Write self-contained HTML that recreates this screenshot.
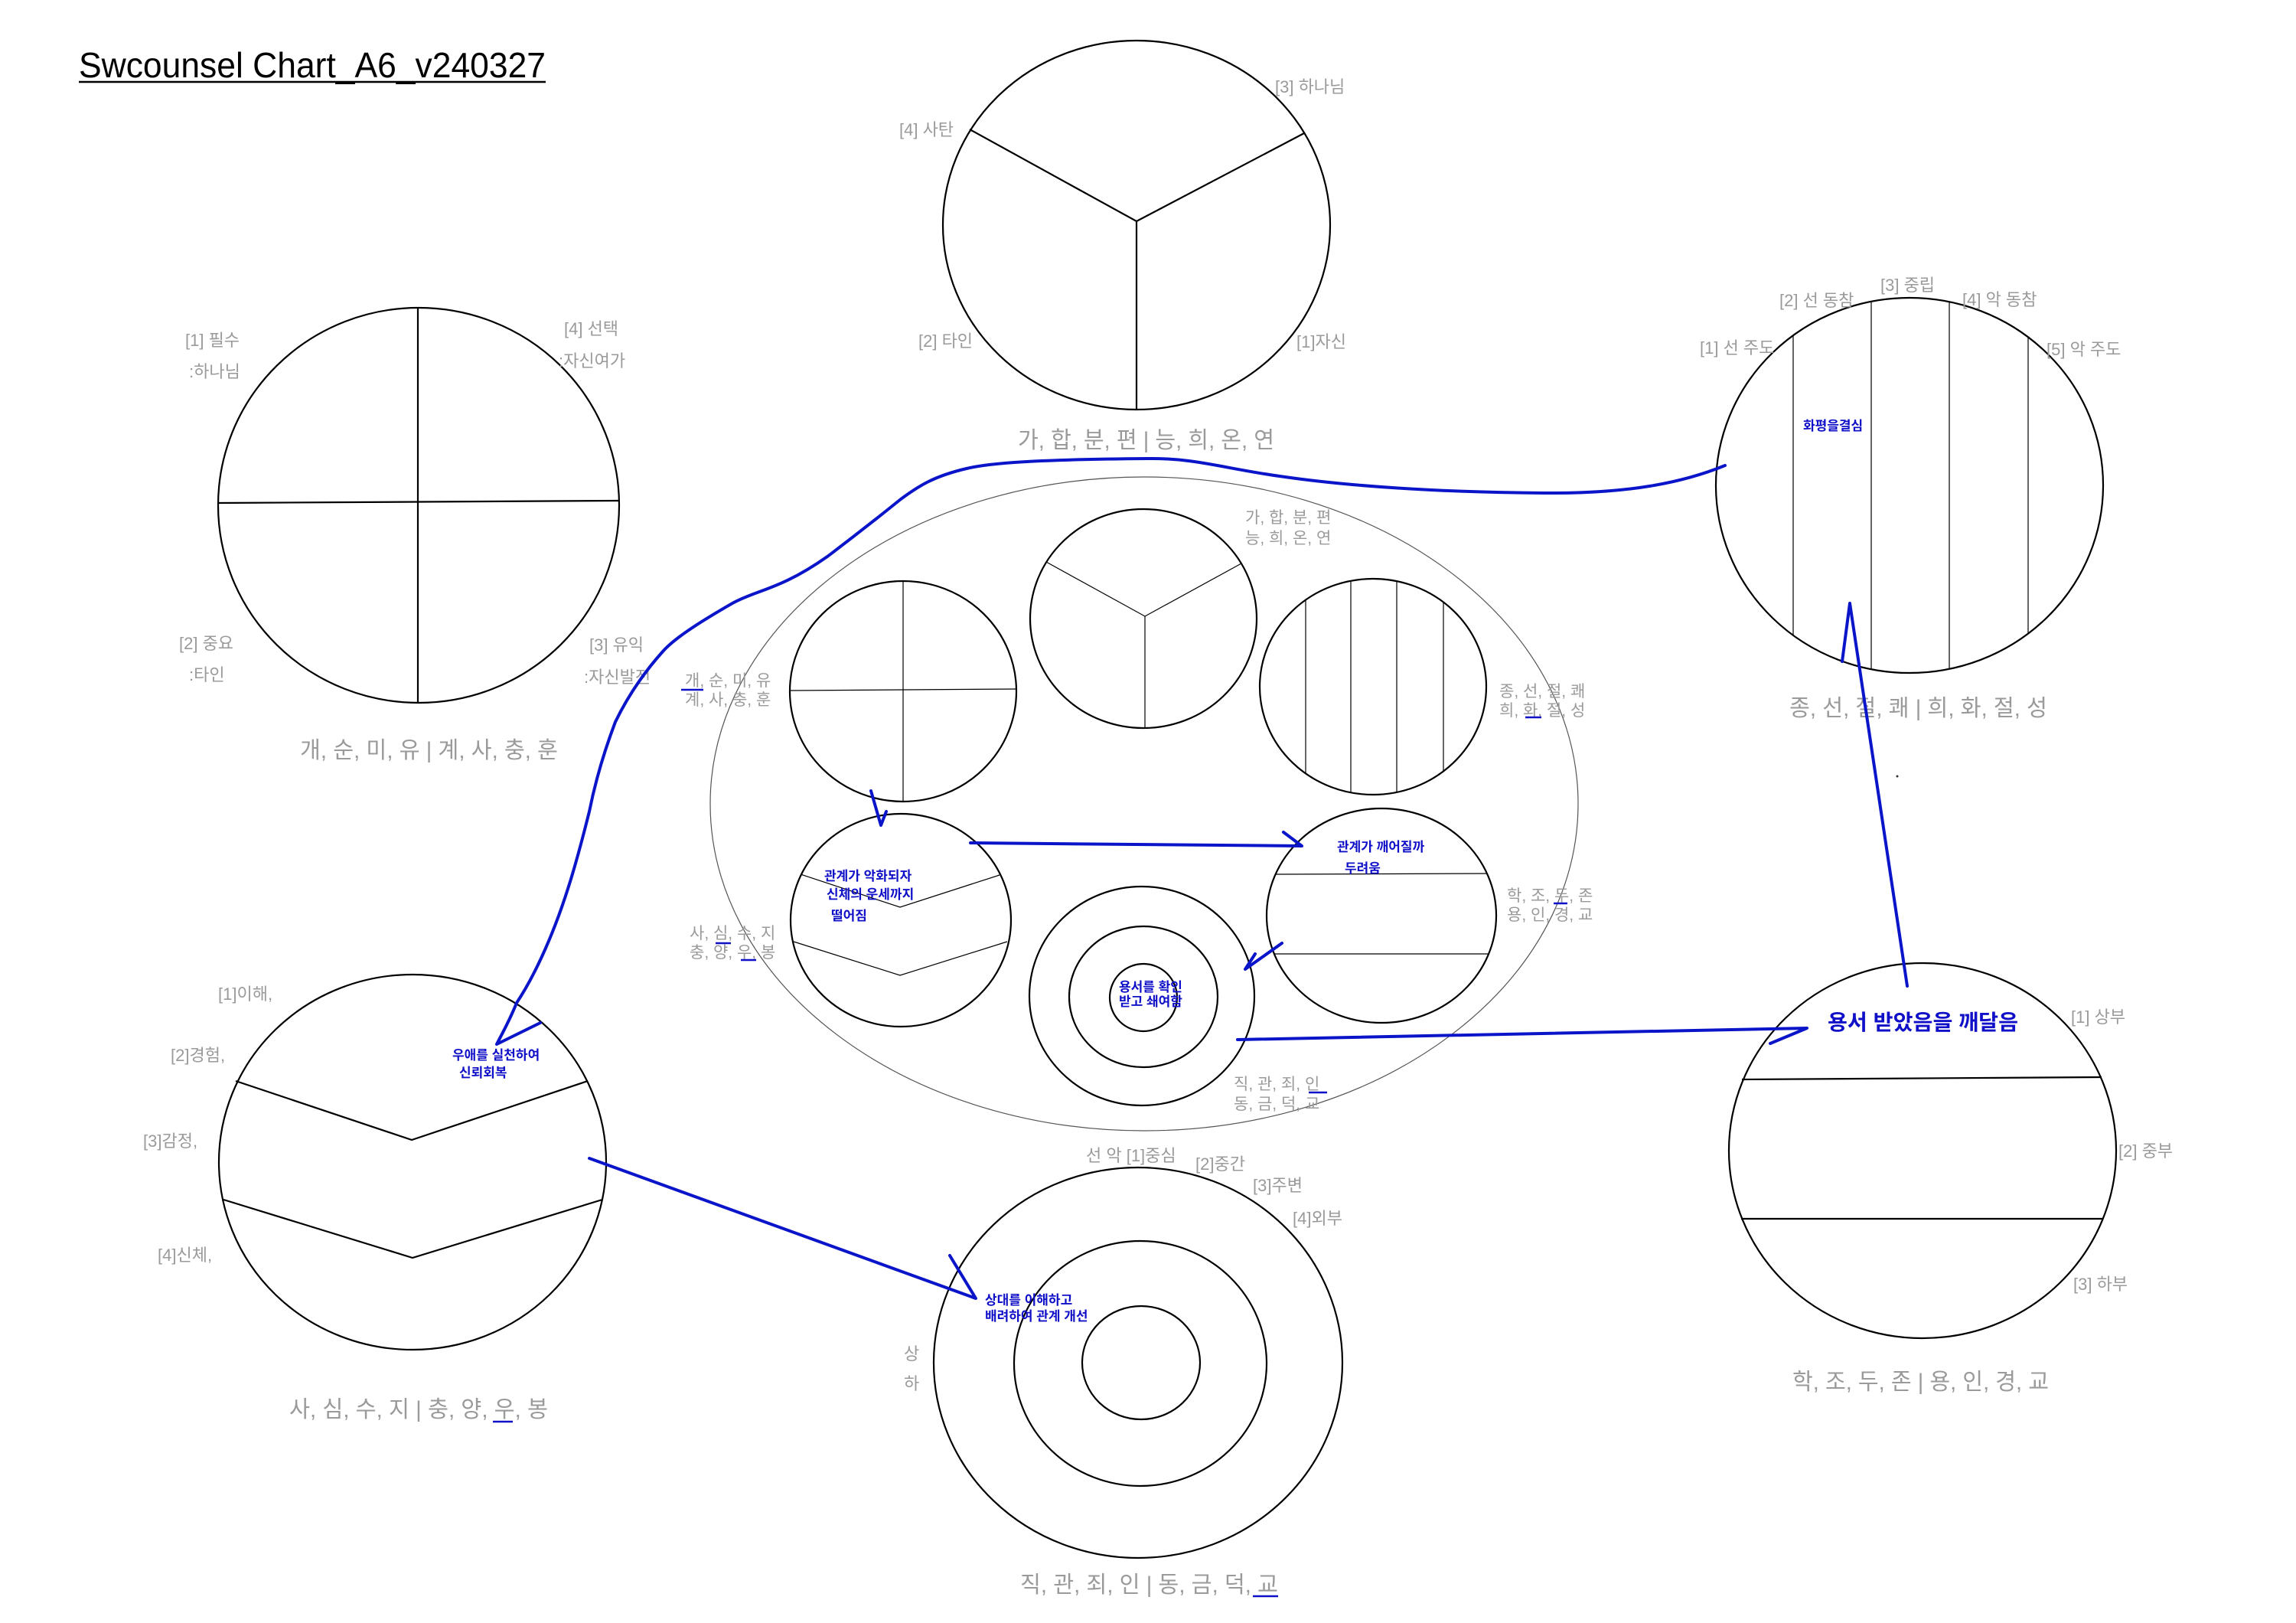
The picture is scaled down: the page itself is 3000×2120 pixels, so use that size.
<!DOCTYPE html>
<html><head><meta charset="utf-8"><style>
html,body{margin:0;padding:0;background:#fff;}
svg{display:block;}
text{font-family:"Liberation Sans","Noto Sans CJK KR",sans-serif;}
.g{fill:#9a9a9a;font-size:22px;}
.s{fill:#9a9a9a;font-size:21px;}
.c{fill:#9a9a9a;font-size:30px;}
.b{fill:#1010c8;font-size:17px;font-weight:bold;}
.k{fill:none;stroke:#000;stroke-width:2.2;}
.t{fill:none;stroke:#000;stroke-width:1.2;}
.bl{fill:none;stroke:#0a14c8;stroke-width:4;stroke-linecap:round;stroke-linejoin:round;}
.u{stroke:#1010c8;stroke-width:2.5;}
</style></head><body>
<svg width="3000" height="2120" viewBox="0 0 3000 2120" xmlns="http://www.w3.org/2000/svg">
<!-- title -->
<text x="103" y="101" font-size="46" fill="#000" textLength="610" lengthAdjust="spacingAndGlyphs">Swcounsel Chart_A6_v240327</text>
<line x1="103" y1="107" x2="713" y2="107" stroke="#000" stroke-width="2.5"/>

<!-- Circle A -->
<ellipse class="k" cx="547" cy="660" rx="262" ry="258"/>
<line class="k" x1="546" y1="403" x2="546" y2="918"/>
<line class="k" x1="285" y1="657" x2="809" y2="654"/>
<text class="g" x="242" y="452">[1] 필수</text>
<text class="g" x="247" y="493">:하나님</text>
<text class="g" x="737" y="437">[4] 선택</text>
<text class="g" x="730" y="479">:자신여가</text>
<text class="g" x="234" y="848">[2] 중요</text>
<text class="g" x="247" y="889">:타인</text>
<text class="g" x="770" y="850">[3] 유익</text>
<text class="g" x="763" y="892">:자신발전</text>
<text class="c" x="392" y="990" textLength="337" lengthAdjust="spacingAndGlyphs">개, 순, 미, 유 | 계, 사, 충, 훈</text>

<!-- Circle B -->
<ellipse class="k" cx="1485" cy="294" rx="253" ry="241"/>
<polyline class="k" points="1267,169 1485,289 1704,174"/>
<line class="k" x1="1485" y1="289" x2="1485" y2="535"/>
<text class="g" x="1175" y="177">[4] 사탄</text>
<text class="g" x="1666" y="121">[3] 하나님</text>
<text class="g" x="1200" y="453">[2] 타인</text>
<text class="g" x="1694" y="454">[1]자신</text>
<text class="c" x="1330" y="585" textLength="335" lengthAdjust="spacingAndGlyphs">가, 합, 분, 편 | 능, 희, 온, 연</text>

<!-- Circle C -->
<ellipse class="k" cx="2495" cy="634" rx="253" ry="245"/>
<line class="t" x1="2343" y1="438" x2="2343" y2="830"/>
<line class="t" x1="2445" y1="395" x2="2445" y2="873"/>
<line class="t" x1="2547" y1="395" x2="2547" y2="873"/>
<line class="t" x1="2650" y1="440" x2="2650" y2="828"/>
<text class="g" x="2221" y="462">[1] 선 주도</text>
<text class="g" x="2325" y="400">[2] 선 동참</text>
<text class="g" x="2457" y="380">[3] 중립</text>
<text class="g" x="2564" y="399">[4] 악 동참</text>
<text class="g" x="2674" y="464">[5] 악 주도</text>
<text class="b" x="2356" y="562">화평을결심</text>
<text class="c" x="2338" y="935" textLength="337" lengthAdjust="spacingAndGlyphs">종, 선, 절, 쾌 | 희, 화, 절, 성</text>

<!-- big ellipse -->
<ellipse cx="1495" cy="1050" rx="567" ry="427" fill="none" stroke="#555" stroke-width="1.2"/>

<!-- D1 -->
<ellipse class="k" cx="1180" cy="903" rx="148" ry="144"/>
<line class="t" x1="1180" y1="759" x2="1180" y2="1047"/>
<line class="t" x1="1032" y1="902" x2="1328" y2="900"/>
<text class="s" x="895" y="896">개, 순, 미, 유</text>
<text class="s" x="895" y="921">계, 사, 충, 훈</text>
<line class="u" x1="890" y1="901" x2="919" y2="901"/>

<!-- D2 -->
<ellipse class="k" cx="1494" cy="808" rx="148" ry="143"/>
<polyline class="t" points="1367,734 1496,805 1622,736"/>
<line class="t" x1="1496" y1="805" x2="1496" y2="951"/>
<text class="s" x="1627" y="683">가, 합, 분, 편</text>
<text class="s" x="1627" y="710">능, 희, 온, 연</text>

<!-- D3 -->
<ellipse class="k" cx="1794" cy="897" rx="148" ry="141"/>
<line class="t" x1="1706" y1="784" x2="1706" y2="1010"/>
<line class="t" x1="1765" y1="759" x2="1765" y2="1035"/>
<line class="t" x1="1825" y1="759" x2="1825" y2="1035"/>
<line class="t" x1="1886" y1="786" x2="1886" y2="1008"/>
<text class="s" x="1959" y="910">종, 선, 절, 쾌</text>
<text class="s" x="1959" y="935">희, 화, 절, 성</text>
<line class="u" x1="1993" y1="937" x2="2014" y2="937"/>

<!-- D4 -->
<ellipse class="k" cx="1177" cy="1202" rx="144" ry="139"/>
<polyline class="t" points="1046,1142 1176,1185 1306,1143"/>
<polyline class="t" points="1037,1230 1176,1274 1316,1230"/>
<text class="s" x="901" y="1226">사, 심, 수, 지</text>
<text class="s" x="901" y="1251">충, 양, 우, 봉</text>
<line class="u" x1="935" y1="1232" x2="955" y2="1232"/>
<line class="u" x1="968" y1="1254" x2="988" y2="1254"/>
<text class="b" x="1077" y="1150" font-size="15">관계가 악화되자</text>
<text class="b" x="1080" y="1174" font-size="15">신체의 운세까지</text>
<text class="b" x="1086" y="1202" font-size="15">떨어짐</text>

<!-- D5 -->
<ellipse class="k" cx="1805" cy="1196" rx="150" ry="140"/>
<line class="t" x1="1667" y1="1142" x2="1943" y2="1141"/>
<line class="t" x1="1665" y1="1246" x2="1945" y2="1246"/>
<text class="b" x="1747" y="1112" font-size="15">관계가 깨어질까</text>
<text class="b" x="1757" y="1140" font-size="15">두려움</text>
<text class="s" x="1969" y="1177">학, 조, 두, 존</text>
<text class="s" x="1969" y="1202">용, 인, 경, 교</text>
<line class="u" x1="2030" y1="1180" x2="2048" y2="1180"/>

<!-- D6 -->
<ellipse class="k" cx="1492" cy="1301" rx="147" ry="143"/>
<ellipse class="k" cx="1494" cy="1302" rx="97" ry="92"/>
<ellipse class="k" cx="1494" cy="1303" rx="44" ry="44"/>
<text class="b" x="1462" y="1295" font-size="14">용서를 확인</text>
<text class="b" x="1462" y="1314" font-size="14">받고 쇄여함</text>
<text class="s" x="1612" y="1423">직, 관, 죄, 인</text>
<text class="s" x="1612" y="1449">동, 금, 덕, 교</text>
<line class="u" x1="1710" y1="1427" x2="1734" y2="1427"/>

<!-- Circle E -->
<ellipse class="k" cx="2512" cy="1503" rx="253" ry="245"/>
<line class="k" x1="2276" y1="1410" x2="2746" y2="1407"/>
<line class="k" x1="2275" y1="1592" x2="2748" y2="1592"/>
<text class="g" x="2706" y="1336">[1] 상부</text>
<text class="g" x="2768" y="1511">[2] 중부</text>
<text class="g" x="2709" y="1685">[3] 하부</text>
<text x="2388" y="1345" font-size="28" font-weight="bold" fill="#1010c8" textLength="249" lengthAdjust="spacingAndGlyphs">용서 받았음을 깨달음</text>
<text class="c" x="2342" y="1815" textLength="335" lengthAdjust="spacingAndGlyphs">학, 조, 두, 존 | 용, 인, 경, 교</text>

<!-- Circle F -->
<ellipse class="k" cx="539" cy="1518" rx="253" ry="245"/>
<polyline class="k" points="308,1412 538,1489 768,1412"/>
<polyline class="k" points="292,1567 539,1643 787,1567"/>
<text class="g" x="285" y="1306">[1]이해,</text>
<text class="g" x="223" y="1386">[2]경험,</text>
<text class="g" x="187" y="1498">[3]감정,</text>
<text class="g" x="206" y="1647">[4]신체,</text>
<text class="b" x="591" y="1384" font-size="15">우애를 실천하여</text>
<text class="b" x="600" y="1407" font-size="15">신뢰회복</text>
<text class="c" x="378" y="1851" textLength="338" lengthAdjust="spacingAndGlyphs">사, 심, 수, 지 | 충, 양, 우, 봉</text>
<line class="u" x1="644" y1="1857" x2="670" y2="1857"/>

<!-- Circle G -->
<ellipse class="k" cx="1487" cy="1780" rx="267" ry="255"/>
<ellipse class="k" cx="1490" cy="1781" rx="165" ry="160"/>
<ellipse class="k" cx="1491" cy="1780" rx="77" ry="74"/>
<text class="g" x="1419" y="1517">선  악 [1]중심</text>
<text class="g" x="1562" y="1528">[2]중간</text>
<text class="g" x="1637" y="1556">[3]주변</text>
<text class="g" x="1689" y="1599">[4]외부</text>
<text class="g" x="1181" y="1776">상</text>
<text class="g" x="1181" y="1815">하</text>
<text class="b" x="1287" y="1704" font-size="14">상대를 이해하고</text>
<text class="b" x="1287" y="1725" font-size="14">배려하여 관계 개선</text>
<text class="c" x="1333" y="2080" textLength="337" lengthAdjust="spacingAndGlyphs">직, 관, 죄, 인 | 동, 금, 덕, 교</text>
<line class="u" x1="1637" y1="2085" x2="1670" y2="2085"/>

<!-- blue connectors -->
<path class="bl" d="M2254,608 C2200,630 2130,645 2017,644 C1880,643 1760,635 1672,622 C1600,612 1560,598 1500,599 C1380,600 1300,603 1263,612 C1220,622 1200,635 1177,652 C1130,690 1110,705 1081,727 C1020,770 990,770 957,788 C910,815 880,835 866,851 C840,880 820,910 804,943 C790,980 778,1020 770,1060 C760,1100 752,1130 742,1161 C720,1230 695,1280 675,1310 C665,1335 655,1352 649,1364 L706,1336"/>
<polyline class="bl" points="770,1513 1275,1696 1241,1640"/>
<polyline class="bl" points="1268,1101 1701,1105 1677,1087"/>
<polyline class="bl" points="1675,1232 1627,1266 1640,1246"/>
<polyline class="bl" points="1138,1033 1151,1078 1158,1060"/>
<polyline class="bl" points="1617,1358 2361,1343 2313,1363"/>
<polyline class="bl" points="2492,1288 2417,788 2407,864"/>
<circle cx="2479" cy="1014" r="1.5" fill="#333"/>
</svg>
</body></html>
